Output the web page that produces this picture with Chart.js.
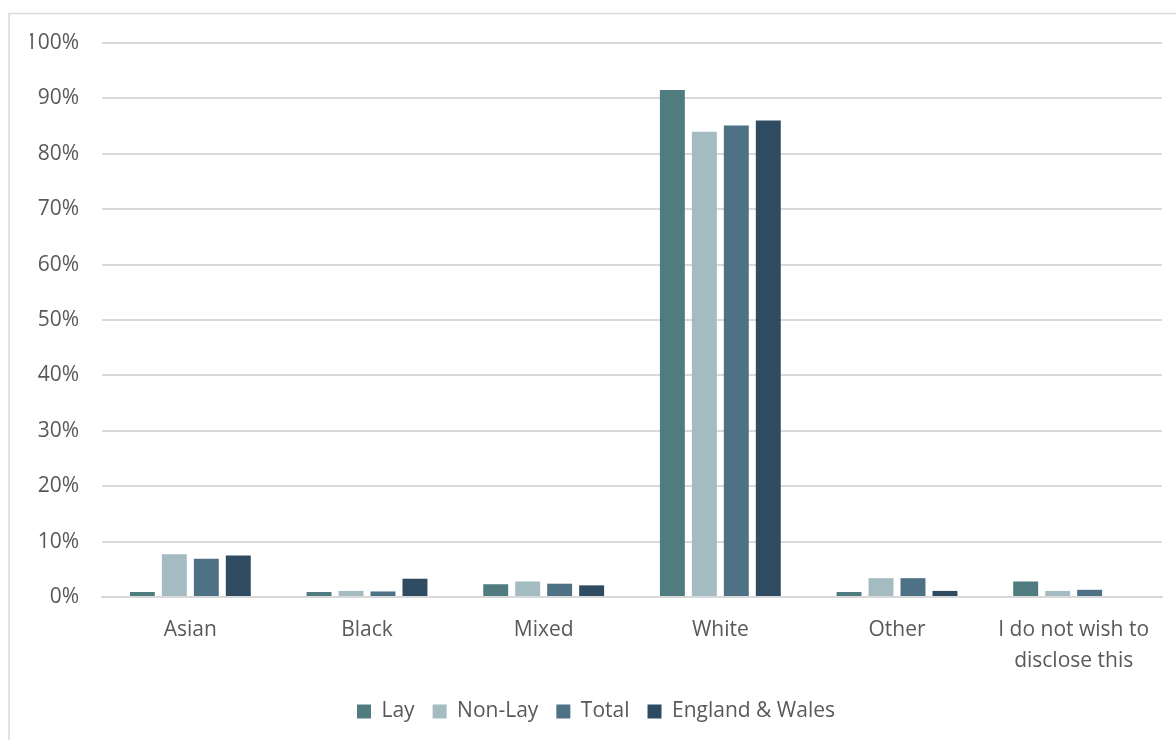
<!DOCTYPE html>
<html>
<head>
<meta charset="utf-8">
<script src="https://cdn.jsdelivr.net/npm/chart.js@4/dist/chart.umd.min.js"></script>
<style>
  html, body { margin: 0; padding: 0; background: #ffffff; }
  #wrap { position: relative; width: 1176px; height: 740px; }
</style>
</head>
<body>
<div id="wrap"><canvas id="ethnicity-chart"></canvas></div>
<script>
const categories = ['Asian', 'Black', 'Mixed', 'White', 'Other', ['I do not wish to', 'disclose this']];
const layValues = [0.9, 0.9, 2.3, 91.5, 0.9, 2.8];
const nonLayValues = [7.7, 1.1, 2.8, 84.0, 3.4, 1.1];
const totalValues = [6.9, 1.0, 2.4, 85.1, 3.4, 1.3];
const englandWalesValues = [7.5, 3.3, 2.1, 86.0, 1.1, 0];

const LAY_COLOR = '#507c80';
const NON_LAY_COLOR = '#a4bcc1';
const TOTAL_COLOR = '#4f7186';
const ENGLAND_WALES_COLOR = '#2f4b61';
const TEXT_COLOR = '#595959';
const GRID_COLOR = '#d9d9d9';

Chart.defaults.font.family = '"Open Sans", sans-serif';
Chart.defaults.font.size = 21;
Chart.defaults.color = TEXT_COLOR;

// outline round the whole chart, like the frame of an office chart object
const frameBorder = {
  id: 'frameBorder',
  beforeDraw(chart) {
    const ctx = chart.ctx;
    ctx.save();
    ctx.strokeStyle = GRID_COLOR;
    ctx.lineWidth = 1.5;
    ctx.strokeRect(9, 13.5, 1300, 900);
    ctx.restore();
  },
};

function makeDataset(label, values, color) {
  return {
    label: label,
    data: values,
    backgroundColor: color,
    barPercentage: 0.78,
    categoryPercentage: 0.724,
  };
}

const ctx = document.getElementById('ethnicity-chart').getContext('2d');

new Chart(ctx, {
  type: 'bar',
  data: {
    labels: categories,
    datasets: [
      makeDataset('Lay', layValues, LAY_COLOR),
      makeDataset('Non-Lay', nonLayValues, NON_LAY_COLOR),
      makeDataset('Total', totalValues, TOTAL_COLOR),
      makeDataset('England & Wales', englandWalesValues, ENGLAND_WALES_COLOR),
    ],
  },
  options: {
    responsive: true,
    maintainAspectRatio: false,
    animation: false,
    layout: {
      padding: { left: 30, right: 14, top: 43, bottom: 8 },
    },
    scales: {
      y: {
        min: 0,
        max: 100,
        ticks: {
          stepSize: 10,
          padding: 23,
          font: { size: 21 },
          callback: (value) => value + '%',
        },
        grid: {
          color: GRID_COLOR,
          lineWidth: 2,
          drawTicks: false,
        },
        border: { display: false },
        afterFit(scale) {
          scale.width = 72;
        },
      },
      x: {
        ticks: {
          padding: 18,
          maxRotation: 0,
          autoSkip: false,
          font: { size: 21, lineHeight: 1.45 },
        },
        grid: { display: false, drawTicks: false },
        border: { display: true, color: GRID_COLOR, width: 2 },
        afterFit(scale) {
          scale.height = 86;
        },
      },
    },
    plugins: {
      legend: {
        position: 'bottom',
        labels: {
          boxWidth: 14,
          boxHeight: 14,
          padding: 18,
          color: TEXT_COLOR,
          font: { size: 21 },
        },
      },
      tooltip: { enabled: false },
    },
  },
  plugins: [frameBorder],
});
</script>
</body>
</html>
